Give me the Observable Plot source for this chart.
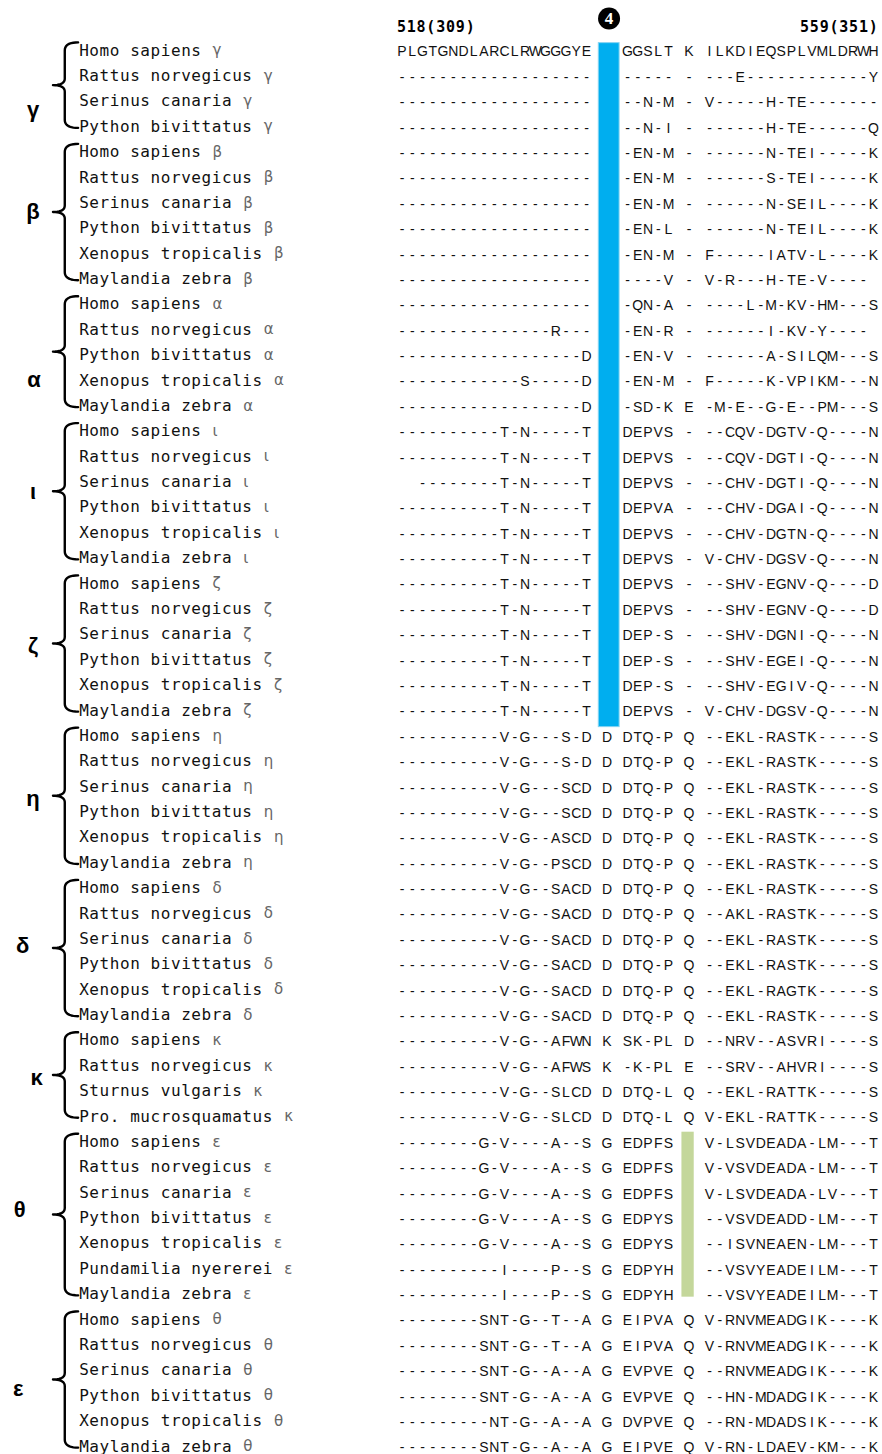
<!DOCTYPE html>
<html><head><meta charset="utf-8">
<script src="https://cdn.jsdelivr.net/npm/d3@7"></script>
<script src="https://cdn.jsdelivr.net/npm/@observablehq/plot@0.6"></script>
<style>body{margin:0;background:#fff;overflow:hidden}</style>
</head><body><div id="chart"></div>
<script>
// ---- data ----
const groupLabels = ["γ","β","α","ι","ζ","η","δ","κ","θ","ε"];
const groupGenes  = ["γ","β","α","ι","ζ","η","δ","κ","ε","θ"];
const groupSizes  = [4,6,5,6,6,6,6,4,7,6];
const speciesNames = [
 "Homo sapiens","Rattus norvegicus","Serinus canaria","Python bivittatus",
 "Homo sapiens","Rattus norvegicus","Serinus canaria","Python bivittatus","Xenopus tropicalis","Maylandia zebra",
 "Homo sapiens","Rattus norvegicus","Python bivittatus","Xenopus tropicalis","Maylandia zebra",
 "Homo sapiens","Rattus norvegicus","Serinus canaria","Python bivittatus","Xenopus tropicalis","Maylandia zebra",
 "Homo sapiens","Rattus norvegicus","Serinus canaria","Python bivittatus","Xenopus tropicalis","Maylandia zebra",
 "Homo sapiens","Rattus norvegicus","Serinus canaria","Python bivittatus","Xenopus tropicalis","Maylandia zebra",
 "Homo sapiens","Rattus norvegicus","Serinus canaria","Python bivittatus","Xenopus tropicalis","Maylandia zebra",
 "Homo sapiens","Rattus norvegicus","Sturnus vulgaris","Pro. mucrosquamatus",
 "Homo sapiens","Rattus norvegicus","Serinus canaria","Python bivittatus","Xenopus tropicalis","Pundamilia nyererei","Maylandia zebra",
 "Homo sapiens","Rattus norvegicus","Serinus canaria","Python bivittatus","Xenopus tropicalis","Maylandia zebra"
];
const seqLeft = [
 "PLGTGNDLARCLRWGGGYE",
 "-------------------","-------------------","-------------------",
 "-------------------","-------------------","-------------------","-------------------","-------------------","-------------------",
 "-------------------","---------------R---","------------------D","------------S-----D","------------------D",
 "----------T-N-----T","----------T-N-----T","  --------T-N-----T","----------T-N-----T","----------T-N-----T","----------T-N-----T",
 "----------T-N-----T","----------T-N-----T","----------T-N-----T","----------T-N-----T","----------T-N-----T","----------T-N-----T",
 "----------V-G---S-D","----------V-G---S-D","----------V-G---SCD","----------V-G---SCD","----------V-G--ASCD","----------V-G--PSCD",
 "----------V-G--SACD","----------V-G--SACD","----------V-G--SACD","----------V-G--SACD","----------V-G--SACD","----------V-G--SACD",
 "----------V-G--AFWN","----------V-G--AFWS","----------V-G--SLCD","----------V-G--SLCD",
 "--------G-V----A--S","--------G-V----A--S","--------G-V----A--S","--------G-V----A--S","--------G-V----A--S","----------I----P--S","----------I----P--S",
 "--------SNT-G--T--A","--------SNT-G--T--A","--------SNT-G--A--A","--------SNT-G--A--A","---------NT-G--A--A","--------SNT-G--A--A"
];
const siteA = [
 " "," "," "," ", " "," "," "," "," "," ", " "," "," "," "," ",
 " "," "," "," "," "," ", " "," "," "," "," "," ",
 "D","D","D","D","D","D", "D","D","D","D","D","D",
 "K","K","D","D",
 "G","G","G","G","G","G","G",
 "G","G","G","G","G","G"
];
const seqMid = [
 "GGSLT","-----","--N-M","--N-I",
 "-EN-M","-EN-M","-EN-M","-EN-L","-EN-M","----V",
 "-QN-A","-EN-R","-EN-V","-EN-M","-SD-K",
 "DEPVS","DEPVS","DEPVS","DEPVA","DEPVS","DEPVS",
 "DEPVS","DEPVS","DEP-S","DEP-S","DEP-S","DEPVS",
 "DTQ-P","DTQ-P","DTQ-P","DTQ-P","DTQ-P","DTQ-P",
 "DTQ-P","DTQ-P","DTQ-P","DTQ-P","DTQ-P","DTQ-P",
 "SK-PL","-K-PL","DTQ-L","DTQ-L",
 "EDPFS","EDPFS","EDPFS","EDPYS","EDPYS","EDPYH","EDPYH",
 "EIPVA","EIPVA","EVPVE","EVPVE","DVPVE","EIPVE"
];
const siteB = [
 "K","-","-","-", "-","-","-","-","-","-", "-","-","-","-","E",
 "-","-","-","-","-","-", "-","-","-","-","-","-",
 "Q","Q","Q","Q","Q","Q", "Q","Q","Q","Q","Q","Q",
 "D","E","Q","Q",
 " "," "," "," "," "," "," ",
 "Q","Q","Q","Q","Q","Q"
];
const seqRight = [
 "ILKDIEQSPLVMLDRWH","---E------------Y","V-----H-TE-------","------H-TE------Q",
 "------N-TEI-----K","------S-TEI-----K","------N-SEIL----K","------N-TEIL----K","F-----IATV-L----K","V-R---H-TE-V---- ",
 "----L-M-KV-HM---S","------I-KV-Y---- ","------A-SILQM---S","F-----K-VPIKM---N","-M-E--G-E--PM---S",
 "--CQV-DGTV-Q----N","--CQV-DGTI-Q----N","--CHV-DGTI-Q----N","--CHV-DGAI-Q----N","--CHV-DGTN-Q----N","V-CHV-DGSV-Q----N",
 "--SHV-EGNV-Q----D","--SHV-EGNV-Q----D","--SHV-DGNI-Q----N","--SHV-EGEI-Q----N","--SHV-EGIV-Q----N","V-CHV-DGSV-Q----N",
 "--EKL-RASTK-----S","--EKL-RASTK-----S","--EKL-RASTK-----S","--EKL-RASTK-----S","--EKL-RASTK-----S","--EKL-RASTK-----S",
 "--EKL-RASTK-----S","--AKL-RASTK-----S","--EKL-RASTK-----S","--EKL-RASTK-----S","--EKL-RAGTK-----S","--EKL-RASTK-----S",
 "--NRV--ASVRI----S","--SRV--AHVRI----S","--EKL-RATTK-----S","V-EKL-RATTK-----S",
 "V-LSVDEADA-LM---T","V-VSVDEADA-LM---T","V-LSVDEADA-LV---T","--VSVDEADD-LM---T","--ISVNEAEN-LM---T","--VSVYEADEILM---T","--VSVYEADEILM---T",
 "V-RNVMEADGIK----K","V-RNVMEADGIK----K","--RNVMEADGIK----K","--HN-MDADGIK----K","--RN-MDADSIK----K","V-RN-LDAEV-KM---K"
];
const headerLabels = ["518(309)","559(351)"];
const motifLabel = "4";
const blueSpan  = {col: 20, from: 0,  to: 26};
const greenSpan = {col: 28, from: 43, to: 49};

// ---- derived tables ----
const rows = [];
{
  let r = 0;
  groupSizes.forEach((n, gi) => {
    for (let k = 0; k < n; k++, r++) rows.push({row: r, name: speciesNames[r], gene: groupGenes[gi], group: gi});
  });
}
const cells = [];
rows.forEach(d => {
  const i = d.row;
  const full = seqLeft[i].padEnd(19) + " " + siteA[i] + " " + seqMid[i] + " " + siteB[i] + " " + seqRight[i].padEnd(17);
  [...full].forEach((ch, c) => { if (ch !== " ") cells.push({row: i, col: c, ch}); });
});
const groups = [];
{
  let r = 0;
  groupSizes.forEach((n, gi) => { groups.push({g: gi, label: groupLabels[gi], first: r, last: r + n - 1}); r += n; });
}

// ---- layout helpers (column / row units) ----
const L = -31.5;            // start column of species labels
const labelNudge = {"γ":[0,0.85],"β":[0,-0.15],"α":[0.1,0.98],"ι":[0,-0.1],"ζ":[0,-0.05],"η":[0,0],"δ":[-1.0,-0.2],"κ":[0.35,0],"θ":[-1.3,-0.33],"ε":[-1.45,0.25]};
function quad(p0, p1, p2, n = 10) {
  const out = [];
  for (let k = 0; k <= n; k++) {
    const t = k / n, a = (1 - t) * (1 - t), b = 2 * (1 - t) * t, c = t * t;
    out.push([a * p0[0] + b * p1[0] + c * p2[0], a * p0[1] + b * p1[1] + c * p2[1]]);
  }
  return out;
}
const bracePts = [];
groups.forEach(G => {
  const top = G.first - 0.32, bot = G.last + 0.05, mid = (top + bot) / 2;
  const xr = L - 0.1, xv = L - 1.4, xt = L - 2.55, hy = 0.32, ty = 0.26;
  const pts = [
    ...quad([xr, top], [xv, top], [xv, top + hy]),
    ...quad([xv, mid - ty], [xv, mid], [xt, mid]),
    ...quad([xt, mid], [xv, mid], [xv, mid + ty]),
    ...quad([xv, bot - hy], [xv, bot], [xr, bot])
  ];
  pts.forEach(p => bracePts.push({x: p[0], y: p[1], g: G.g}));
});

const MONO = "DejaVu Sans Mono, monospace";
const svg = Plot.plot({
  width: 882, height: 1454, margin: 0,
  x: {type: "linear", domain: [0, 46], range: [401.5, 401.5 + 46 * 10.25], axis: null},
  y: {type: "linear", domain: [0, 55], range: [50, 50 + 55 * 25.38], axis: null},
  style: {background: "#fff"},
  marks: [
    Plot.rect([blueSpan], {x1: d => d.col - 0.8, x2: d => d.col + 1.23, y1: d => d.from - 0.29, y2: d => d.to + 0.66,
      fill: "#00AEEF", stroke: "#86d4f2", strokeWidth: 1}),
    Plot.rect([greenSpan], {x1: d => d.col - 0.69, x2: d => d.col + 0.51, y1: d => d.from - 0.38, y2: d => d.to + 0.12,
      fill: "#C4D79B"}),
    Plot.text(cells, {x: "col", y: "row", text: "ch", dy: 1.5, fontFamily: "Liberation Sans, Arial, sans-serif", fontSize: 14, fill: "#111"}),
    Plot.text(rows, {x: () => L, y: "row", text: "name", textAnchor: "start", fontFamily: MONO, fontSize: 16, fill: "#111"}),
    Plot.text(rows, {x: d => L + d.name.length + 1, y: "row", text: "gene", textAnchor: "start", fontFamily: "DejaVu Sans, sans-serif", fontSize: 15, fill: "#666"}),
    Plot.line(bracePts, {x: "x", y: "y", z: "g", stroke: "#000", strokeWidth: 2.4, strokeLinejoin: "round", strokeLinecap: "round"}),
    Plot.text(groups, {x: d => L - 4.5 + labelNudge[d.label][0], y: d => (d.first + d.last) / 2 + labelNudge[d.label][1], text: "label",
      fontFamily: "Liberation Sans, Arial, sans-serif", fontWeight: "bold", fontSize: 22, fill: "#000"}),
    Plot.text([headerLabels[0]], {x: () => -0.5, y: () => -0.92, text: d => d, textAnchor: "start", fontFamily: MONO, fontWeight: "bold", fontSize: 15, fill: "#000"}),
    Plot.text([headerLabels[1]], {x: () => 46.5, y: () => -0.92, text: d => d, textAnchor: "end", fontFamily: MONO, fontWeight: "bold", fontSize: 15, fill: "#000"}),
    Plot.dot([blueSpan], {x: d => d.col + 0.2, y: () => -1.26, r: 11, fill: "#000", stroke: "none"}),
    Plot.text([motifLabel], {x: () => blueSpan.col + 0.2, y: () => -1.26, text: d => d, dy: 0.5, fontFamily: "Liberation Serif, serif", fontWeight: "bold", fontSize: 17, fill: "#fff"})
  ]
});
// monospace labels: widen the pitch to the alignment's column pitch
svg.querySelectorAll("g").forEach(g => {
  const ff = g.getAttribute("font-family");
  if (ff && ff.startsWith("DejaVu Sans Mono")) {
    g.setAttribute("letter-spacing", g.getAttribute("font-weight") === "bold" ? "0.8" : "0.57");
  }
});
document.getElementById("chart").appendChild(svg);
</script>
</body></html>
